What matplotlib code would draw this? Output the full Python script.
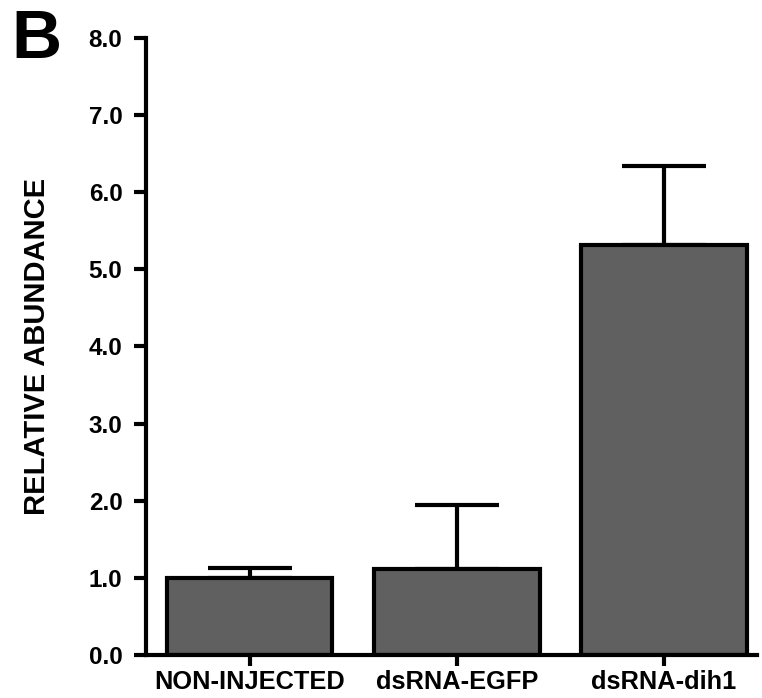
import matplotlib
matplotlib.use("Agg")
import matplotlib.pyplot as plt

categories = ["NON-INJECTED", "dsRNA-EGFP", "dsRNA-dih1"]
values = [1.0, 1.115, 5.32]
errors = [0.13, 0.825, 1.02]
yticks = [0.0, 1.0, 2.0, 3.0, 4.0, 5.0, 6.0, 7.0, 8.0]

plt.rcParams['font.family'] = ['Liberation Sans', 'DejaVu Sans']
plt.rcParams['font.weight'] = 'bold'

fig = plt.figure(figsize=(7.62, 6.98), dpi=100)
ax = fig.add_axes([0.1916, 0.0616, 0.802, 0.884])

x = list(range(len(categories)))
ax.bar(x, values, width=0.8, color='#606060', edgecolor='black', linewidth=3, zorder=2)
ax.errorbar(x, values, yerr=[[0]*len(errors), errors], fmt='none', ecolor='black',
            elinewidth=3, capsize=30.5, capthick=3, zorder=1)

ax.set_xlim(-0.5, 2.45)
ax.set_ylim(0, 8)
ax.set_yticks(yticks)
ax.set_yticklabels([f"{v:.1f}" for v in yticks], fontsize=17.5, fontweight='bold')
ax.set_xticks(x)
ax.set_xticklabels(categories, fontsize=18.3, fontweight='bold')
ax.set_ylabel("RELATIVE ABUNDANCE", fontsize=21, fontweight='bold', labelpad=27)

for s in ['top', 'right']:
    ax.spines[s].set_visible(False)
for s in ['left', 'bottom']:
    ax.spines[s].set_linewidth(3)
ax.tick_params(axis='y', length=9, width=3, pad=8)
ax.tick_params(axis='x', length=8, width=3, pad=3)

fig.text(0.015, 0.988, "B", fontsize=50, fontweight='bold', va='top', ha='left')

fig.savefig("out.png", dpi=100)
